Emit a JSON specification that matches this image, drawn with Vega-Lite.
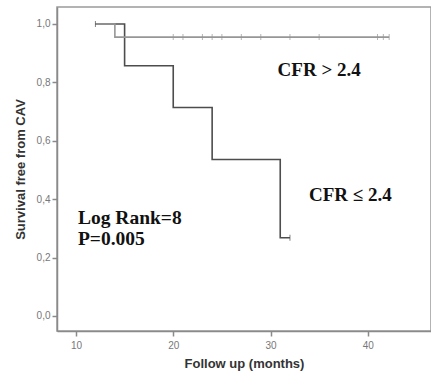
{
  "$schema": "https://vega.github.io/schema/vega-lite/v6.json",
  "width": 374,
  "height": 324,
  "autosize": "none",
  "padding": {"left": 57, "top": 7, "right": 0, "bottom": 47},
  "background": "white",
  "config": {
    "view": {"stroke": "#9a9a9a", "strokeWidth": 1.5},
    "axis": {"grid": false, "domainColor": "#8a8a8a", "domainWidth": 1.5, "tickColor": "#8a8a8a", "tickWidth": 1.5, "tickSize": 5, "labelColor": "#777777", "labelFont": "Liberation Sans", "labelFontSize": 10, "titleFont": "Liberation Sans", "titleFontWeight": "bold", "titleFontSize": 13, "titleColor": "#333333"}
  },
  "datasets": {
    "curves": [
      {"group": "low", "time": 12, "surv": 1.0},
      {"group": "low", "time": 15, "surv": 0.857},
      {"group": "low", "time": 20, "surv": 0.714},
      {"group": "low", "time": 24, "surv": 0.536},
      {"group": "low", "time": 31, "surv": 0.268},
      {"group": "low", "time": 32, "surv": 0.268},
      {"group": "high", "time": 12, "surv": 1.0},
      {"group": "high", "time": 14, "surv": 0.955},
      {"group": "high", "time": 42.2, "surv": 0.955}
    ],
    "censored": [
      {"group": "low", "time": 12, "surv": 1.0},
      {"group": "low", "time": 32, "surv": 0.268},
      {"group": "high", "time": 20, "surv": 0.955},
      {"group": "high", "time": 21, "surv": 0.955},
      {"group": "high", "time": 23, "surv": 0.955},
      {"group": "high", "time": 24, "surv": 0.955},
      {"group": "high", "time": 25, "surv": 0.955},
      {"group": "high", "time": 27, "surv": 0.955},
      {"group": "high", "time": 29, "surv": 0.955},
      {"group": "high", "time": 32, "surv": 0.955},
      {"group": "high", "time": 35, "surv": 0.955},
      {"group": "high", "time": 41, "surv": 0.955},
      {"group": "high", "time": 41.6, "surv": 0.955},
      {"group": "high", "time": 42.2, "surv": 0.955}
    ],
    "notes": [
      {"label": "CFR > 2.4", "time": 35, "surv": 0.842, "anchor": "center"},
      {"label": "CFR ≤ 2.4", "time": 38.2, "surv": 0.414, "anchor": "center"},
      {"label": "Log Rank=8", "time": 10.2, "surv": 0.337, "anchor": "left"},
      {"label": "P=0.005", "time": 10.2, "surv": 0.262, "anchor": "left"}
    ]
  },
  "encoding": {
    "x": {"field": "time", "type": "quantitative", "scale": {"domain": [8.05, 46.5], "nice": false, "zero": false}, "axis": {"values": [10, 20, 30, 40], "title": "Follow up (months)", "titlePadding": 7, "labelPadding": 4}},
    "y": {"field": "surv", "type": "quantitative", "scale": {"domain": [-0.0514, 1.058], "nice": false, "zero": false}, "axis": {"values": [0, 0.2, 0.4, 0.6, 0.8, 1.0], "labelExpr": "replace(format(datum.value, '.1f'), '.', ',')", "title": "Survival free from CAV", "titlePadding": 9}}
  },
  "layer": [
    {
      "data": {"name": "curves"},
      "mark": {"type": "line", "interpolate": "step-after", "strokeWidth": 1.6},
      "encoding": {
        "color": {"field": "group", "type": "nominal", "scale": {"domain": ["low", "high"], "range": ["#4d4d4d", "#969696"]}, "legend": null},
        "order": {"field": "time", "type": "quantitative"}
      }
    },
    {
      "data": {"name": "censored"},
      "mark": {"type": "tick", "orient": "vertical", "size": 6, "thickness": 1},
      "encoding": {
        "color": {"field": "group", "type": "nominal", "scale": {"domain": ["low", "high"], "range": ["#4d4d4d", "#969696"]}, "legend": null}
      }
    },
    {
      "data": {"name": "notes"},
      "transform": [{"filter": "datum.anchor == 'center'"}],
      "mark": {"type": "text", "font": "Liberation Serif", "fontWeight": "bold", "fontSize": 19, "color": "#111111", "align": "center", "baseline": "middle"},
      "encoding": {"text": {"field": "label"}}
    },
    {
      "data": {"name": "notes"},
      "transform": [{"filter": "datum.anchor == 'left'"}],
      "mark": {"type": "text", "font": "Liberation Serif", "fontWeight": "bold", "fontSize": 19.5, "color": "#111111", "align": "left", "baseline": "middle"},
      "encoding": {"text": {"field": "label"}}
    }
  ]
}
